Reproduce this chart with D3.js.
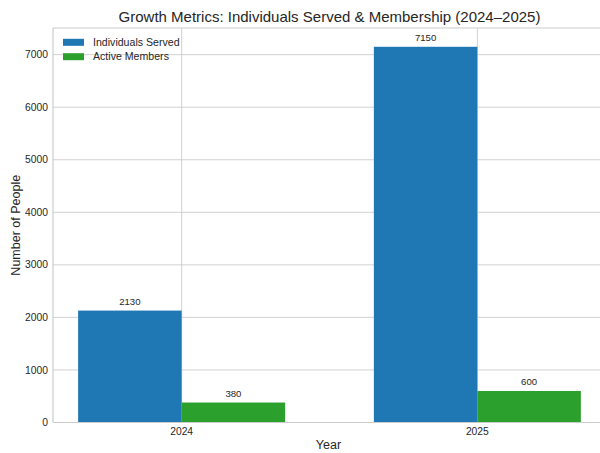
<!DOCTYPE html>
<html>
<head>
<meta charset="utf-8">
<script src="https://cdn.jsdelivr.net/npm/d3@7"></script>
<style>
  html, body { margin: 0; padding: 0; background: #fff; }
  svg { display: block; font-family: "Liberation Sans", Arial, sans-serif; }
</style>
</head>
<body>
<svg id="chart" width="600" height="453"></svg>
<script>
// Yearly figures
const years = ["2024", "2025"];
const seriesNames = ["Individuals Served", "Active Members"];
const individualsServed = [2130, 7150];
const activeMembers = [380, 600];
const seriesColors = ["#1f77b4", "#2ca02c"];
const yTicks = [0, 1000, 2000, 3000, 4000, 5000, 6000, 7000];

const seriesValues = [individualsServed, activeMembers];
const svg = d3.select("#chart");

const margin = { left: 53, top: 28, bottom: 422.5 };
const barWidth = 0.35;
const xMin = -0.435, xMax = 1.435;
const x = d3.scaleLinear().domain([xMin, xMax]).range([margin.left, 606]);
const yMax = d3.max(individualsServed) * 1.05;
const y = d3.scaleLinear().domain([0, yMax]).range([margin.bottom, margin.top]);

const gridColor = "#cccccc";
const textColor = "#262626";

// Horizontal grid
svg.append("g")
  .selectAll("line")
  .data(yTicks)
  .join("line")
  .attr("x1", x(xMin)).attr("x2", x(xMax))
  .attr("y1", d => y(d)).attr("y2", d => y(d))
  .attr("stroke", gridColor).attr("stroke-width", 0.9);

// Vertical grid at year ticks
svg.append("g")
  .selectAll("line")
  .data(years)
  .join("line")
  .attr("x1", (d, i) => x(i)).attr("x2", (d, i) => x(i))
  .attr("y1", y(0)).attr("y2", y(yMax))
  .attr("stroke", gridColor).attr("stroke-width", 0.9);

// Bars with value labels
const offsets = [-barWidth / 2, barWidth / 2];
seriesValues.forEach((vals, s) => {
  const g = svg.append("g");
  g.selectAll("rect")
    .data(vals)
    .join("rect")
    .attr("x", (d, i) => x(i + offsets[s] - barWidth / 2))
    .attr("width", x(barWidth) - x(0))
    .attr("y", d => y(d))
    .attr("height", d => y(0) - y(d))
    .attr("fill", seriesColors[s]);
  g.selectAll("text")
    .data(vals)
    .join("text")
    .attr("x", (d, i) => x(i + offsets[s]))
    .attr("y", d => y(d) - 5.5)
    .attr("text-anchor", "middle")
    .attr("font-size", 9.6)
    .attr("fill", textColor)
    .text(d => d);
});

// Frame (left, top, bottom)
svg.append("line").attr("x1", x(xMin)).attr("x2", x(xMin)).attr("y1", y(0)).attr("y2", y(yMax))
  .attr("stroke", gridColor).attr("stroke-width", 1.2);
svg.append("line").attr("x1", x(xMin)).attr("x2", x(xMax)).attr("y1", y(yMax)).attr("y2", y(yMax))
  .attr("stroke", gridColor).attr("stroke-width", 1.2);
svg.append("line").attr("x1", x(xMin)).attr("x2", x(xMax)).attr("y1", y(0)).attr("y2", y(0))
  .attr("stroke", gridColor).attr("stroke-width", 1.2);

// Y tick labels
svg.append("g")
  .selectAll("text")
  .data(yTicks)
  .join("text")
  .attr("x", x(xMin) - 5)
  .attr("y", d => y(d))
  .attr("dy", "0.35em")
  .attr("text-anchor", "end")
  .attr("font-size", 10.3)
  .attr("fill", textColor)
  .text(d => d);

// X tick labels
svg.append("g")
  .selectAll("text")
  .data(years)
  .join("text")
  .attr("x", (d, i) => x(i))
  .attr("y", y(0) + 12)
  .attr("text-anchor", "middle")
  .attr("font-size", 10.3)
  .attr("fill", textColor)
  .text(d => d);

// Axis titles
svg.append("text")
  .attr("x", (x(xMin) + x(xMax)) / 2 - 1)
  .attr("y", 448.5)
  .attr("text-anchor", "middle")
  .attr("font-size", 12.5)
  .attr("fill", textColor)
  .text("Year");

svg.append("text")
  .attr("transform", `translate(19.5,${(y(0) + y(yMax)) / 2}) rotate(-90)`)
  .attr("text-anchor", "middle")
  .attr("font-size", 12.5)
  .attr("fill", textColor)
  .text("Number of People");

// Title
svg.append("text")
  .attr("x", (x(xMin) + x(xMax)) / 2)
  .attr("y", 21.5)
  .attr("text-anchor", "middle")
  .attr("font-size", 15)
  .attr("fill", textColor)
  .text("Growth Metrics: Individuals Served & Membership (2024–2025)");

// Legend
const legend = svg.append("g").attr("transform", "translate(63,42.3)");
seriesNames.forEach((name, i) => {
  legend.append("rect")
    .attr("x", 0).attr("y", i * 14.4 - 3.5)
    .attr("width", 21).attr("height", 7)
    .attr("fill", seriesColors[i]);
  legend.append("text")
    .attr("x", 30).attr("y", i * 14.4)
    .attr("dy", "0.35em")
    .attr("font-size", 10.6)
    .attr("fill", textColor)
    .text(name);
});
</script>
</body>
</html>
